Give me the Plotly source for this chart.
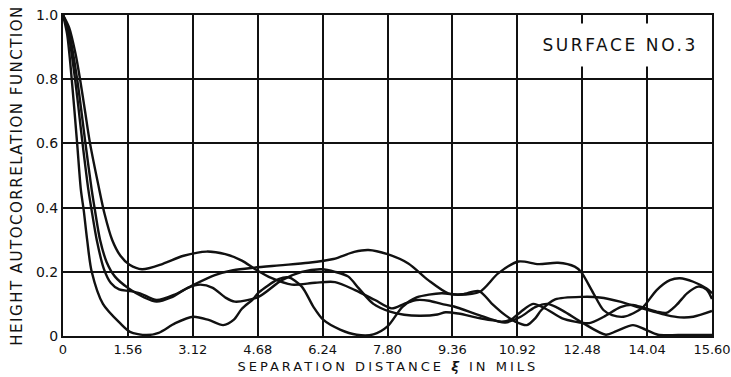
import plotly.graph_objects as go

# Separation distance (mils) and height autocorrelation for the four traces of surface No. 3
xi_a = [0, 0.15, 0.3, 0.41, 0.53, 0.65, 0.85, 1.0, 1.18, 1.38, 1.6, 1.9, 2.4, 2.9, 3.45, 3.9, 4.3,
        4.62, 5.02, 5.5, 6.06, 6.54, 7.02, 7.5, 7.9, 8.2, 8.5, 8.8, 9.1, 9.4, 10.0, 10.5, 10.75,
        11.0, 11.3, 11.6, 12.0, 12.3, 12.65, 13.0, 13.4, 13.7, 13.95, 14.27, 14.5, 14.75, 15.0,
        15.27, 15.47, 15.6]
acf_a = [1.0, 0.96, 0.88, 0.8, 0.7, 0.6, 0.47, 0.38, 0.3, 0.25, 0.222, 0.208, 0.225, 0.25, 0.263,
         0.255, 0.235, 0.208, 0.18, 0.16, 0.166, 0.168, 0.143, 0.112, 0.086, 0.1, 0.112, 0.11, 0.1,
         0.092, 0.065, 0.045, 0.05, 0.075, 0.1, 0.085, 0.055, 0.045, 0.04, 0.06, 0.09, 0.097, 0.088,
         0.076, 0.072, 0.097, 0.133, 0.154, 0.145, 0.115]

xi_b = [0, 0.12, 0.29, 0.47, 0.61, 0.69, 0.81, 0.98, 1.15, 1.35, 1.6, 1.85, 2.25, 2.7, 3.13, 3.65,
        4.09, 4.6, 5.2, 5.9, 6.5, 7.0, 7.34, 7.8, 8.3, 8.78, 9.26, 9.6, 10.0, 10.3, 10.63, 10.87,
        11.15, 11.35, 11.5, 11.83, 12.5, 12.9, 13.39, 13.79, 14.19, 14.51, 14.83, 15.15, 15.6]
acf_b = [1.0, 0.95, 0.8, 0.6, 0.455, 0.39, 0.3, 0.21, 0.165, 0.145, 0.14, 0.133, 0.112, 0.13, 0.159,
         0.19, 0.205, 0.213, 0.22, 0.228, 0.24, 0.262, 0.268, 0.255, 0.226, 0.174, 0.133, 0.13,
         0.14, 0.102, 0.065, 0.045, 0.034, 0.055, 0.081, 0.114, 0.122, 0.12, 0.107, 0.091, 0.076,
         0.065, 0.058, 0.06, 0.078]

xi_c = [0, 0.14, 0.34, 0.54, 0.69, 0.77, 0.89, 1.05, 1.25, 1.56, 1.95, 2.25, 2.6, 3.0, 3.3, 3.6,
        3.9, 4.13, 4.7, 5.26, 5.74, 6.22, 6.54, 6.86, 7.1, 7.46, 7.86, 8.2, 8.6, 9.0, 9.2, 9.5,
        10.0, 10.4, 10.63, 11.0, 11.35, 11.65, 12.0, 12.5, 13.05, 13.3, 13.7, 14.0, 14.3, 14.8, 15.6]
acf_c = [1.0, 0.95, 0.8, 0.6, 0.455, 0.39, 0.3, 0.23, 0.185, 0.15, 0.12, 0.107, 0.12, 0.15, 0.16,
         0.15, 0.12, 0.107, 0.122, 0.174, 0.2, 0.208, 0.2, 0.185, 0.15, 0.1, 0.076, 0.066, 0.063,
         0.067, 0.074, 0.07, 0.056, 0.047, 0.042, 0.06, 0.09, 0.1, 0.08, 0.04, 0.004, 0.015, 0.034,
         0.02, 0.004, 0.003, 0.003]

xi_d = [0, 0.1, 0.21, 0.34, 0.43, 0.5, 0.58, 0.69, 0.96, 1.37, 1.61, 2.0, 2.3, 2.7, 3.13, 3.5,
        3.85, 4.1, 4.3, 4.57, 4.7, 5.18, 5.42, 5.74, 6.02, 6.26, 6.66, 7.06, 7.46, 7.8, 8.16, 8.5,
        9.1, 9.5, 10.02, 10.46, 10.95, 11.43, 11.9, 12.3, 12.45, 12.75, 12.99, 13.2, 13.47, 13.71,
        13.95, 14.27, 14.59, 14.83, 15.15, 15.47, 15.6]
acf_d = [1.0, 0.94, 0.8, 0.6, 0.455, 0.39, 0.3, 0.2, 0.1, 0.04, 0.013, 0.003, 0.01, 0.04, 0.06,
         0.05, 0.034, 0.05, 0.085, 0.115, 0.135, 0.177, 0.183, 0.154, 0.091, 0.05, 0.02, 0.004,
         0.005, 0.03, 0.091, 0.12, 0.133, 0.128, 0.138, 0.195, 0.232, 0.224, 0.228, 0.216, 0.2,
         0.133, 0.081, 0.065, 0.06, 0.071, 0.091, 0.143, 0.174, 0.18, 0.169, 0.148, 0.133]

x_ticks = [0, 1.56, 3.12, 4.68, 6.24, 7.80, 9.36, 10.92, 12.48, 14.04, 15.60]
x_tick_text = ["0", "1.56", "3.12", "4.68", "6.24", "7.80", "9.36", "10.92", "12.48", "14.04", "15.60"]
y_ticks = [0, 0.2, 0.4, 0.6, 0.8, 1.0]
y_tick_text = ["0", "0.2", "0.4", "0.6", "0.8", "1.0"]

FONT = "DejaVu Sans"
INK = "#111111"

fig = go.Figure()
for xs, ys in [(xi_a, acf_a), (xi_b, acf_b), (xi_c, acf_c), (xi_d, acf_d)]:
    fig.add_trace(go.Scatter(
        x=xs, y=ys, mode="lines",
        line=dict(color=INK, width=2.4, shape="spline", smoothing=0.8),
        showlegend=False, hoverinfo="skip",
    ))

# 0: surface label (white box hides the grid behind it)
fig.add_annotation(
    x=13.38, y=0.906, xref="x", yref="y", text="SURFACE NO.3", showarrow=False,
    font=dict(family=FONT, size=17, color=INK), bgcolor="white", borderpad=11,
)
# 1: x-axis title
fig.add_annotation(
    x=0.5, y=-0.0935, xref="paper", yref="paper", text="SEPARATION DISTANCE <b><i>ξ</i></b> IN MILS",
    showarrow=False, xanchor="center", yanchor="middle",
    font=dict(family=FONT, size=13, color=INK),
)
# 2: y-axis title
fig.add_annotation(
    x=-0.071, y=0.5, xref="paper", yref="paper", text="HEIGHT AUTOCORRELATION FUNCTION",
    showarrow=False, textangle=-90, xanchor="center", yanchor="middle",
    font=dict(family=FONT, size=15, color=INK),
)

axis_common = dict(
    showline=True, linecolor=INK, linewidth=2, mirror=True,
    showgrid=True, gridcolor=INK, gridwidth=1.5, zeroline=False,
    ticks="", tickfont=dict(family=FONT, size=13, color=INK), automargin=False,
    ticklabeloverflow="allow",
)
fig.update_xaxes(range=[0, 15.6], tickvals=x_ticks, ticktext=x_tick_text, **axis_common)
fig.update_yaxes(range=[0, 1.0], tickvals=y_ticks, ticktext=y_tick_text,
                 **{**axis_common, "tickfont": dict(family=FONT, size=14, color=INK)})
fig.update_layout(
    width=731, height=377, margin=dict(l=63, r=19, t=15, b=41),
    paper_bgcolor="white", plot_bgcolor="white",
)

# Lettering of the labels is spaced out like stencil lettering
spacing_js = """
var gd = document.getElementById('{plot_id}');
var gaps = {'0': '2.6px', '1': '3px', '2': '1.5px'};
Object.keys(gaps).forEach(function (k) {
  gd.querySelectorAll('.annotation[data-index="' + k + '"] .annotation-text').forEach(function (e) {
    e.style.letterSpacing = gaps[k];
  });
});
"""
fig.write_html("out.html", post_script=spacing_js)
